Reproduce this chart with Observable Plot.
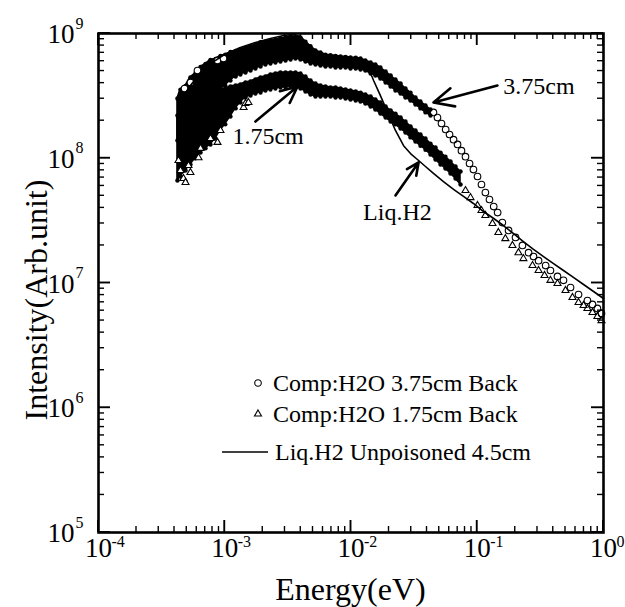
<!DOCTYPE html>
<html><head><meta charset="utf-8">
<script src="https://cdn.jsdelivr.net/npm/d3@7"></script>
<script src="https://cdn.jsdelivr.net/npm/@observablehq/plot@0.6"></script>
<style>body{margin:0;background:#fff} svg{font-family:"Liberation Serif",serif}</style>
</head><body><div id="chart"></div>
<script>
// ---- dense band of "Comp:H2O 3.75cm Back" (circles), envelope
const circBandE = [4.22e-4,4.46e-4,4.89e-4,5.35e-4,5.87e-4,6.43e-4,7.04e-4,7.71e-4,8.45e-4,9.25e-4,1.01e-3,1.11e-3,1.22e-3,1.33e-3,1.46e-3,1.60e-3,1.75e-3,1.92e-3,2.10e-3,2.30e-3,2.52e-3,2.76e-3,3.03e-3,3.32e-3,3.63e-3,3.98e-3,4.36e-3,4.78e-3,5.23e-3,5.73e-3,6.28e-3,6.88e-3,7.54e-3,8.26e-3,9.05e-3,9.91e-3,1.09e-2,1.19e-2,1.30e-2,1.43e-2,1.56e-2,1.71e-2,1.88e-2,2.06e-2,2.25e-2,2.47e-2,2.70e-2,2.96e-2,3.24e-2,3.55e-2,3.89e-2,4.26e-2];
const circBandHi = [3.01e8,3.55e8,3.80e8,4.45e8,4.80e8,5.40e8,5.70e8,6.15e8,6.25e8,6.60e8,6.75e8,7.10e8,7.25e8,7.50e8,7.65e8,7.95e8,8.10e8,8.50e8,8.60e8,8.85e8,8.90e8,9.15e8,9.25e8,9.50e8,9.40e8,9.30e8,8.60e8,7.90e8,7.30e8,7.05e8,6.75e8,6.70e8,6.62e8,6.55e8,6.50e8,6.42e8,6.40e8,6.30e8,6.08e8,5.86e8,5.65e8,5.34e8,4.96e8,4.60e8,4.28e8,3.97e8,3.62e8,3.36e8,3.07e8,2.85e8,2.65e8,2.46e8];
const circBandLo = [1.39e8,1.44e8,1.67e8,1.94e8,2.16e8,2.51e8,2.70e8,3.01e8,3.24e8,3.56e8,3.83e8,4.20e8,4.52e8,4.69e8,4.87e8,5.05e8,5.24e8,5.44e8,5.65e8,5.75e8,5.86e8,5.97e8,6.08e8,6.19e8,6.31e8,6.19e8,5.97e8,5.75e8,5.65e8,5.54e8,5.44e8,5.44e8,5.34e8,5.34e8,5.34e8,5.24e8,5.24e8,5.14e8,5.05e8,4.78e8,4.60e8,4.36e8,4.05e8,3.76e8,3.49e8,3.30e8,3.07e8,2.90e8,2.70e8,2.51e8,2.33e8,2.20e8];
// individual circles (tail)
const circTailE = [0.0450,0.0484,0.0521,0.0562,0.0603,0.0649,0.0698,0.0750,0.0807,0.0869,0.0933,0.1005,0.108,0.116,0.125,0.135,0.145,0.158,0.177,0.201,0.228,0.255,0.279,0.306,0.348,0.380,0.432,0.482,0.548,0.634,0.746,0.818,0.895,0.964];
const circTailI = [2.33e8,2.12e8,1.90e8,1.70e8,1.55e8,1.41e8,1.29e8,1.15e8,1.03e8,9.08e7,8.12e7,7.14e7,6.16e7,5.31e7,4.67e7,4.10e7,3.67e7,3.05e7,2.64e7,2.32e7,2.00e7,1.75e7,1.63e7,1.51e7,1.38e7,1.26e7,1.13e7,1.05e7,9.20e6,8.09e6,7.24e6,6.73e6,6.25e6,5.70e6];
// scattered circles at the top of the blob
const circOutE = [4.80e-4,5.35e-4,6.08e-4,8.76e-4,9.77e-4];
const circOutI = [3.62e8,4.05e8,5.05e8,6.08e8,6.31e8];

// ---- dense band of "Comp:H2O 1.75cm Back" (triangles)
const triBandE = [4.22e-4,4.46e-4,4.89e-4,5.35e-4,5.87e-4,6.43e-4,7.04e-4,7.71e-4,8.45e-4,9.25e-4,1.01e-3,1.11e-3,1.22e-3,1.33e-3,1.46e-3,1.60e-3,1.75e-3,1.92e-3,2.10e-3,2.30e-3,2.52e-3,2.76e-3,3.03e-3,3.32e-3,3.63e-3,3.98e-3,4.36e-3,4.78e-3,5.23e-3,5.73e-3,6.28e-3,6.88e-3,7.54e-3,8.26e-3,9.05e-3,9.91e-3,1.09e-2,1.19e-2,1.30e-2,1.43e-2,1.56e-2,1.71e-2,1.88e-2,2.06e-2,2.25e-2,2.47e-2,2.70e-2,2.96e-2,3.24e-2,3.55e-2,3.89e-2,4.26e-2,4.67e-2,5.12e-2,5.60e-2,6.14e-2,6.73e-2,7.37e-2];
const triBandHi = [2.20e8,2.42e8,2.60e8,2.80e8,3.01e8,3.13e8,3.30e8,3.36e8,3.49e8,3.56e8,3.62e8,3.76e8,3.83e8,3.90e8,4.05e8,4.12e8,4.28e8,4.44e8,4.52e8,4.69e8,4.78e8,4.87e8,4.87e8,4.87e8,4.87e8,4.78e8,4.52e8,4.20e8,3.97e8,3.83e8,3.76e8,3.69e8,3.69e8,3.62e8,3.56e8,3.49e8,3.43e8,3.36e8,3.24e8,3.13e8,2.96e8,2.80e8,2.60e8,2.42e8,2.28e8,2.12e8,1.97e8,1.80e8,1.67e8,1.55e8,1.44e8,1.31e8,1.22e8,1.11e8,1.03e8,9.42e7,8.59e7,7.83e7];
const triBandLo = [6.64e7,7.14e7,7.98e7,8.91e7,1.00e8,1.11e8,1.20e8,1.29e8,1.44e8,1.67e8,1.87e8,2.16e8,2.51e8,2.80e8,3.07e8,3.18e8,3.30e8,3.36e8,3.49e8,3.56e8,3.62e8,3.69e8,3.69e8,3.76e8,3.69e8,3.62e8,3.43e8,3.24e8,3.13e8,3.13e8,3.13e8,3.13e8,3.07e8,3.07e8,3.01e8,2.96e8,2.90e8,2.85e8,2.75e8,2.60e8,2.46e8,2.28e8,2.12e8,1.97e8,1.87e8,1.73e8,1.61e8,1.47e8,1.36e8,1.26e8,1.17e8,1.07e8,9.77e7,8.91e7,8.27e7,7.55e7,6.88e7,6.16e7];
const triTailE = [0.0807,0.0884,0.1005,0.108,0.116,0.132,0.147,0.167,0.190,0.212,0.232,0.274,0.306,0.341,0.380,0.432,0.500,0.568,0.634,0.695,0.746,0.818,0.895,0.964];
const triTailI = [5.51e7,4.84e7,4.18e7,3.81e7,3.48e7,3.00e7,2.54e7,2.27e7,2.00e7,1.75e7,1.57e7,1.38e7,1.26e7,1.15e7,1.05e7,9.91e6,8.71e6,7.65e6,6.98e6,6.60e6,6.25e6,5.81e6,5.39e6,5.00e6];
const triOutE = [4.30e-4,4.46e-4,4.71e-4,4.89e-4,5.16e-4,5.35e-4,6.20e-4,6.43e-4,7.71e-4,8.76e-4,9.25e-4,1.41e-3,1.46e-3,1.54e-3];
const triOutI = [9.59e7,7.98e7,6.88e7,6.40e7,8.75e7,7.69e7,1.01e8,1.20e8,1.44e8,1.34e8,1.67e8,2.55e8,2.75e8,2.80e8];

// ---- "Liq.H2 Unpoisoned 4.5cm" (line)
const liqE = [4.46e-4,5.35e-4,6.43e-4,8.0e-4,9.95e-4,1.33e-3,1.75e-3,2.30e-3,2.92e-3,3.51e-3,3.98e-3,4.52e-3,5.24e-3,6.28e-3,8.26e-3,1.09e-2,1.26e-2,1.38e-2,1.51e-2,1.71e-2,1.95e-2,2.25e-2,2.61e-2,2.96e-2,3.36e-2,3.89e-2,4.50e-2,5.40e-2,6.49e-2,7.78e-2,9.33e-2,0.112,0.135,0.161,0.194,0.232,0.279,0.335,0.402,0.482,0.578,0.695,0.834,1.0];
const liqI = [2.90e8,3.83e8,4.87e8,5.86e8,6.79e8,7.72e8,8.47e8,9.12e8,9.64e8,9.82e8,9.46e8,8.31e8,7.31e8,6.79e8,6.42e8,6.19e8,5.86e8,5.24e8,4.20e8,3.18e8,2.33e8,1.67e8,1.26e8,1.09e8,9.77e7,8.59e7,7.55e7,6.51e7,5.62e7,4.94e7,4.34e7,3.74e7,3.29e7,2.89e7,2.49e7,2.15e7,1.86e7,1.63e7,1.43e7,1.26e7,1.11e7,9.73e6,8.55e6,7.51e6];

// ---- annotations (label, text anchor point, arrow tail, arrow head)
const annLabels = ["3.75cm","1.75cm","Liq.H2"];
const annTextE = [0.161,1.15e-3,2.33e-2];
const annTextI = [3.76e8,1.49e8,3.67e7];
const annTextAnchor = ["start","start","middle"];
const annFromE = [0.1445,1.75e-3,2.25e-2];
const annFromI = [3.83e8,1.97e8,5.03e7];
const annToE = [0.0450,3.77e-3,3.43e-2];
const annToI = [2.80e8,3.76e8,9.25e7];

// ---- ticks
const xMajor = [1e-4,1e-3,1e-2,1e-1,1];
const xExp = ["-4","-3","-2","-1","0"];
const xMinor = [2e-4,3e-4,4e-4,5e-4,6e-4,7e-4,8e-4,9e-4,2e-3,3e-3,4e-3,5e-3,6e-3,7e-3,8e-3,9e-3,2e-2,3e-2,4e-2,5e-2,6e-2,7e-2,8e-2,9e-2,0.2,0.3,0.4,0.5,0.6,0.7,0.8,0.9];
const yMajor = [1e5,1e6,1e7,1e8,1e9];
const yExp = ["5","6","7","8","9"];
const yMinor = [2e5,3e5,4e5,5e5,6e5,7e5,8e5,9e5,2e6,3e6,4e6,5e6,6e6,7e6,8e6,9e6,2e7,3e7,4e7,5e7,6e7,7e7,8e7,9e7,2e8,3e8,4e8,5e8,6e8,7e8,8e8,9e8];

const legendLabels = ["Comp:H2O 3.75cm Back","Comp:H2O 1.75cm Back","Liq.H2 Unpoisoned 4.5cm"];
const xTitle = "Energy(eV)";
const yTitle = "Intensity(Arb.unit)";

// ---- tables
const zip = (E, A, B) => E.map((e, i) => B ? {E: e, hi: A[i], lo: B[i]} : {E: e, I: A[i]});
const circBand = zip(circBandE, circBandHi, circBandLo);
const triBand = zip(triBandE, triBandHi, triBandLo);
const circTail = zip(circTailE, circTailI);
const triTail = zip(triTailE, triTailI);
const circOut = zip(circOutE, circOutI);
const triOut = zip(triOutE, triOutI);
const liq = zip(liqE, liqI);
const ann = annLabels.map((t, i) => ({t, tx: annTextE[i], ty: annTextI[i], a: annTextAnchor[i], x1: annFromE[i], y1: annFromI[i], x2: annToE[i], y2: annToI[i]}));

const FONT = "Liberation Serif";
const W = 625, H = 607, ML = 98, MR = 22, MT = 33, MB = 75;
const xDom = [1e-4, 1], yDom = [1e5, 1e9];

const chart = Plot.plot({
  width: W, height: H,
  marginLeft: ML, marginRight: MR, marginTop: MT, marginBottom: MB,
  style: {fontFamily: FONT, background: "white", color: "black", overflow: "visible"},
  x: {type: "log", domain: xDom, axis: null},
  y: {type: "log", domain: yDom, axis: null},
  marks: [
    Plot.areaY(circBand, {x: "E", y1: "lo", y2: "hi", fill: "black", stroke: "black", strokeWidth: 1.5}),
    Plot.areaY(triBand, {x: "E", y1: "lo", y2: "hi", fill: "black", stroke: "black", strokeWidth: 1.5}),
    Plot.dot(circBand, {x: "E", y: "hi", r: 2.2, fill: "black"}),
    Plot.dot(circBand, {x: "E", y: "lo", r: 2.2, fill: "black"}),
    Plot.dot(triBand, {x: "E", y: "hi", r: 2.2, fill: "black"}),
    Plot.dot(triBand, {x: "E", y: "lo", r: 2.2, fill: "black"}),
    Plot.dot(circOut, {x: "E", y: "I", symbol: "circle", r: 3.3, stroke: "black", strokeWidth: 1.1, fill: "white"}),
    Plot.dot(triOut, {x: "E", y: "I", symbol: "triangle", r: 2.6, stroke: "black", strokeWidth: 1.1, fill: "white"}),
    Plot.dot(circTail, {x: "E", y: "I", symbol: "circle", r: 3.3, stroke: "black", strokeWidth: 1.1, fill: "none"}),
    Plot.dot(triTail, {x: "E", y: "I", symbol: "triangle", r: 2.6, stroke: "black", strokeWidth: 1.1, fill: "none"}),
    Plot.line(liq, {x: "E", y: "I", stroke: "black", strokeWidth: 1.6}),
    Plot.arrow(ann, {x1: "x1", y1: "y1", x2: "x2", y2: "y2", stroke: "black", strokeWidth: 2.6, headLength: 14, headAngle: 50}),
    Plot.text(ann.filter(d => d.a === "start"), {x: "tx", y: "ty", text: "t", textAnchor: "start", fontSize: 24, fill: "black"}),
    Plot.text(ann.filter(d => d.a === "middle"), {x: "tx", y: "ty", text: "t", textAnchor: "middle", fontSize: 24, fill: "black"}),
    Plot.frame({stroke: "black", strokeWidth: 2.6}),
    Plot.text(xMajor, {x: d => d, frameAnchor: "bottom", dy: 24, text: () => "10", fontSize: 27, textAnchor: "middle", fill: "black"}),
    Plot.text(xMajor, {x: d => d, frameAnchor: "bottom", dy: 14, dx: 13, text: (d, i) => xExp[i], fontSize: 16, textAnchor: "start", fill: "black"}),
    Plot.text(yMajor, {y: d => d, frameAnchor: "left", dx: -24, dy: 1, text: () => "10", fontSize: 27, textAnchor: "end", fill: "black"}),
    Plot.text(yMajor, {y: d => d, frameAnchor: "left", dx: -23, dy: -10, text: (d, i) => yExp[i], fontSize: 16, textAnchor: "start", fill: "black"})
  ]
});
document.getElementById("chart").appendChild(chart);

// ---- inward ticks on all four sides, placed with the plot's own scales
const svg = d3.select(chart);
const sx = chart.scale("x"), sy = chart.scale("y");
const X0 = ML, X1 = W - MR, Y0 = MT, Y1 = H - MB;
const tg = svg.append("g").attr("fill", "none").attr("stroke", "black");
const drawX = (vals, len, sw) => vals.forEach(v => {
  const px = sx.apply(v);
  tg.append("line").attr("x1", px).attr("x2", px).attr("y1", Y1).attr("y2", Y1 - len).attr("stroke-width", sw);
  tg.append("line").attr("x1", px).attr("x2", px).attr("y1", Y0).attr("y2", Y0 + len).attr("stroke-width", sw);
});
const drawY = (vals, len, sw) => vals.forEach(v => {
  const py = sy.apply(v);
  tg.append("line").attr("y1", py).attr("y2", py).attr("x1", X0).attr("x2", X0 + len).attr("stroke-width", sw);
  tg.append("line").attr("y1", py).attr("y2", py).attr("x1", X1).attr("x2", X1 - len).attr("stroke-width", sw);
});
drawX(xMinor, 6, 1.4); drawX(xMajor, 12, 1.9);
drawY(yMinor, 6, 1.4); drawY(yMajor, 12, 1.9);

// ---- legend and axis titles
const g = svg.append("g").attr("font-family", FONT).attr("fill", "black").attr("text-anchor", "start");
const legY = [383, 414, 452];
g.append("path").attr("transform", `translate(258,${legY[0]})`).attr("d", d3.symbol(d3.symbolCircle, Math.PI * 3.3 * 3.3)()).attr("fill", "none").attr("stroke", "black").attr("stroke-width", 1.1);
g.append("path").attr("transform", `translate(258,${legY[1]})`).attr("d", d3.symbol(d3.symbolTriangle, Math.PI * 2.6 * 2.6)()).attr("fill", "none").attr("stroke", "black").attr("stroke-width", 1.1);
g.append("line").attr("x1", 222).attr("x2", 268).attr("y1", legY[2]).attr("y2", legY[2]).attr("stroke", "black").attr("stroke-width", 1.4);
legendLabels.forEach((t, i) => {
  g.append("text").attr("x", i < 2 ? 273 : 275).attr("y", legY[i]).attr("dy", "0.35em").attr("font-size", 24).attr("text-anchor", "start").text(t);
});
g.append("text").attr("x", 350.5).attr("y", 600).attr("text-anchor", "middle").attr("font-size", 32).text(xTitle);
g.append("text").attr("transform", "translate(36,300) rotate(-90)").attr("text-anchor", "middle").attr("dy", "0.35em").attr("font-size", 32).text(yTitle);
</script></body></html>
